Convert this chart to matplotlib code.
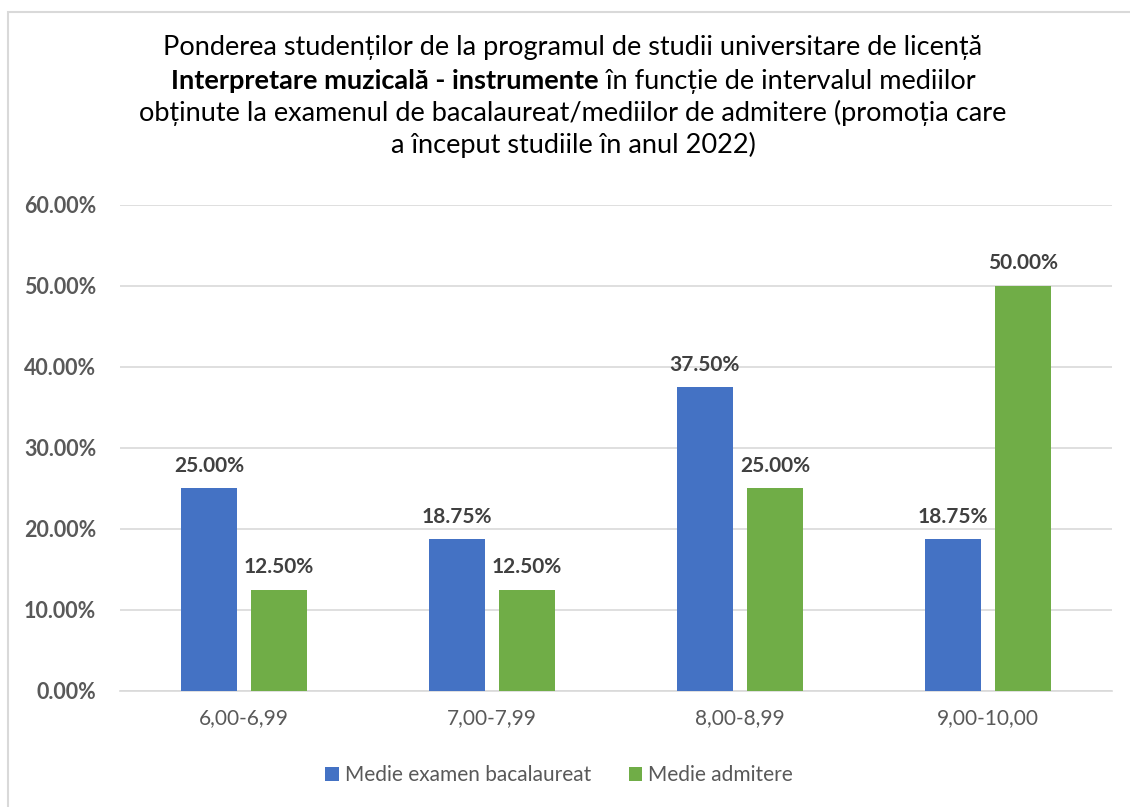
import numpy as np
import matplotlib.pyplot as plt
from matplotlib.patches import Rectangle
from matplotlib.ticker import FuncFormatter

# date
categorii = ["6,00-6,99", "7,00-7,99", "8,00-8,99", "9,00-10,00"]
bacalaureat = [25.00, 18.75, 37.50, 18.75]
admitere = [12.50, 12.50, 25.00, 50.00]
serii = ["Medie examen bacalaureat", "Medie admitere"]

FONT = ["Lato", "DejaVu Sans"]
plt.rcParams["font.family"] = FONT

fig = plt.figure(figsize=(11.3, 8.07), dpi=100)
ax = fig.add_axes([0.106, 0.1438, 0.878, 0.6022])

# chenarul graficului
fig.patches.append(Rectangle((8 / 1130, -0.01), 1.2, 1 - 12 / 807 + 0.01,
                             transform=fig.transFigure, fill=False,
                             edgecolor="#D9D9D9", linewidth=1.5))

x = np.arange(len(categorii))
w = 0.226
off = 0.141
b1 = ax.bar(x - off, bacalaureat, w, color="#4472C4", label=serii[0], zorder=3)
b2 = ax.bar(x + off, admitere, w, color="#70AD47", label=serii[1], zorder=3)

for bars in (b1, b2):
    for r in bars:
        ax.annotate(f"{r.get_height():.2f}%", (r.get_x() + r.get_width() / 2, r.get_height()),
                    xytext=(0, 9), textcoords="offset points", ha="center", va="bottom",
                    fontsize=15, fontweight="bold", color="#404040")

ax.set_xlim(-0.5, 3.5)
ax.set_ylim(0, 60)
ax.set_yticks(range(0, 61, 10))
ax.yaxis.set_major_formatter(FuncFormatter(lambda v, p: f"{v:.2f}%"))
ax.set_xticks(x)
ax.set_xticklabels(categorii)
ax.grid(axis="y", color="#D9D9D9", linewidth=1.2, zorder=0)
for s in ["top", "right", "left"]:
    ax.spines[s].set_visible(False)
ax.spines["bottom"].set_color("#D9D9D9")
ax.spines["bottom"].set_linewidth(1.2)
ax.tick_params(axis="both", length=0)
ax.tick_params(axis="y", pad=17, labelsize=15.5, labelcolor="#595959")
ax.tick_params(axis="x", pad=12, labelsize=15, labelcolor="#595959")
for t in ax.get_yticklabels():
    t.set_fontweight("bold")

ax.legend(loc="center", bbox_to_anchor=(559 / 1130, 1 - 775 / 807),
          bbox_transform=fig.transFigure, ncol=2, frameon=False, fontsize=15,
          labelcolor="#595959", handlelength=0.65, handleheight=0.65,
          handletextpad=0.3, columnspacing=1.8)

# titlul, cu partea ingrosata pe randul al doilea
cx = 573 / 1130
tsize = 19.5
tcol = "#000000"
fig.text(cx, 1 - 48 / 807, "Ponderea studenților de la programul de studii universitare de licență",
         ha="center", va="center", fontsize=tsize, color=tcol)
fig.text(cx, 1 - 113 / 807, "obținute la examenul de bacalaureat/mediilor de admitere (promoția care",
         ha="center", va="center", fontsize=tsize, color=tcol)
fig.text(cx, 1 - 145 / 807, "a început studiile în anul 2022)",
         ha="center", va="center", fontsize=tsize, color=tcol)

y2 = 1 - 81 / 807
p1 = fig.text(0, y2, "Interpretare muzicală - instrumente", ha="left", va="center",
              fontsize=tsize, fontweight="bold", color=tcol)
p2 = fig.text(0, y2, " în funcție de intervalul mediilor", ha="left", va="center",
              fontsize=tsize, color=tcol)
fig.canvas.draw()
r = fig.canvas.get_renderer()
w1 = p1.get_window_extent(r).width / fig.bbox.width
w2 = p2.get_window_extent(r).width / fig.bbox.width
start = cx - (w1 + w2) / 2
p1.set_x(start)
p2.set_x(start + w1)

fig.savefig("out.png", dpi=100)
